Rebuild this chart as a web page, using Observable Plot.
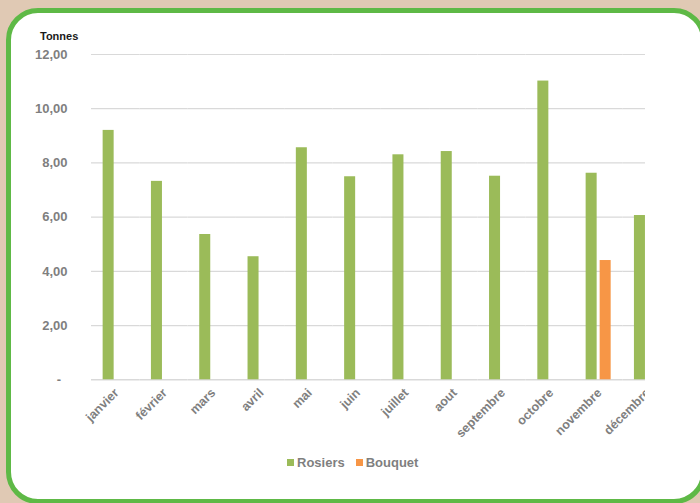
<!DOCTYPE html>
<html>
<head>
<meta charset="utf-8">
<script src="https://cdn.jsdelivr.net/npm/d3@7"></script>
<script src="https://cdn.jsdelivr.net/npm/@observablehq/plot@0.6"></script>
<style>
  html, body { margin: 0; padding: 0; }
  body { width: 700px; height: 503px; background: #e0c9b4; position: relative; overflow: hidden;
         font-family: "Liberation Sans", Arial, sans-serif; }
  #box { position: absolute; left: 6px; top: 8px; width: 700px; height: 496px; box-sizing: border-box;
         border: 5px solid #5eb946; border-radius: 32px; background: #fff; }
  #clip { position: absolute; left: 0; top: 0; width: 645px; height: 440px; overflow: hidden; }
  #clip svg { max-width: none !important; width: 700px !important; height: 440px !important; }
  #ylabel { position: absolute; left: 40px; top: 30px; font-size: 11px; font-weight: bold; color: #1a1a1a; }
  #legend { position: absolute; top: 455px; left: 287px; font-size: 13px; font-weight: bold; color: #7f7f7f;
            display: flex; align-items: center; }
  .item { display: flex; align-items: center; margin-right: 11px; }
  .sw { width: 7px; height: 7px; margin-right: 3px; }
  svg text { font-family: "Liberation Sans", Arial, sans-serif; }
</style>
</head>
<body>
<div id="box"></div>
<div id="clip"></div>
<div id="ylabel"></div>
<div id="legend"></div>
<script>
const months = ["janvier", "février", "mars", "avril", "mai", "juin", "juillet", "aout", "septembre", "octobre", "novembre", "décembre"];
const series = ["Rosiers", "Bouquet"];
const colors = ["#9bbb59", "#f79646"];
const rosiers = [9.20, 7.32, 5.36, 4.54, 8.56, 7.49, 8.30, 8.42, 7.51, 11.02, 7.62, 6.06];
const bouquet = [null, null, null, null, null, null, null, null, null, null, 4.40, null];
const yTicks = [0, 2, 4, 6, 8, 10, 12];
const yTitle = "Tonnes";

const data = [];
months.forEach((m, i) => {
  if (rosiers[i] != null) data.push({month: m, serie: "Rosiers", value: rosiers[i]});
  if (bouquet[i] != null) data.push({month: m, serie: "Bouquet", value: bouquet[i]});
});

const fmt = d => d === 0 ? "-\u2002" : d.toFixed(2).replace(".", ",");

const chart = Plot.plot({
  width: 700,
  height: 440,
  marginLeft: 91,
  marginRight: 29.4,
  marginTop: 54,
  marginBottom: 60.7,
  fx: {domain: months, padding: 0, round: false, label: null},
  x: {domain: series, paddingInner: 3 / 14, paddingOuter: 0.83, round: false, axis: null},
  y: {domain: [0, 12], label: null},
  color: {domain: series, range: colors},
  marks: [
    Plot.gridY(yTicks.filter(d => d > 0), {stroke: "#d9d9d9", strokeOpacity: 1, strokeWidth: 1.2}),
    Plot.ruleY([0], {stroke: "#d9d9d9", strokeWidth: 1.5}),
    Plot.barY(data, {fx: "month", x: "serie", y: "value", fill: "serie"}),
    Plot.axisY(yTicks, {tickSize: 0, tickPadding: 24, tickFormat: fmt, fill: "#7f7f7f",
      fontSize: 13, fontWeight: "bold", label: null}),
    Plot.axisFx({anchor: "bottom", tickSize: 0, tickPadding: 11, tickRotate: -45, dx: 1,
      fill: "#7f7f7f", fontSize: 12.5, fontWeight: "bold", label: null})
  ]
});
chart.style.position = "absolute";
chart.style.left = "0px";
chart.style.top = "0px";
chart.style.background = "transparent";
chart.style.maxWidth = "none";
document.getElementById("clip").appendChild(chart);

document.getElementById("ylabel").textContent = yTitle;
const legend = document.getElementById("legend");
series.forEach((s, i) => {
  const it = document.createElement("div");
  it.className = "item";
  const sw = document.createElement("div");
  sw.className = "sw";
  sw.style.background = colors[i];
  const t = document.createElement("span");
  t.textContent = s;
  it.appendChild(sw);
  it.appendChild(t);
  legend.appendChild(it);
});
</script>
</body>
</html>
